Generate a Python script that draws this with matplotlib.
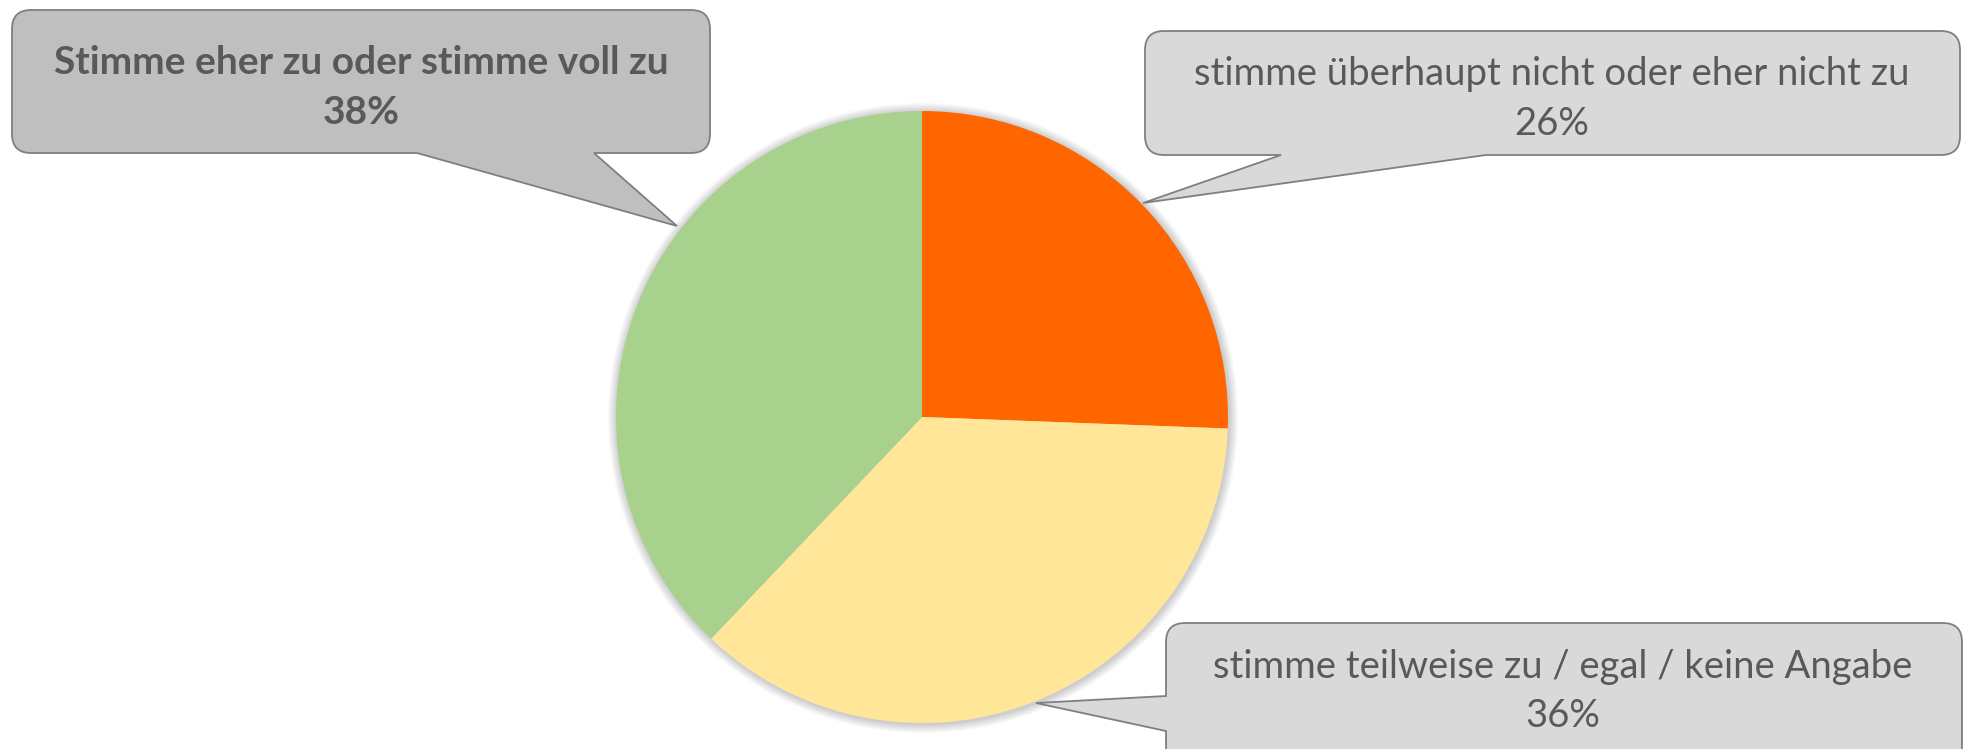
import matplotlib
matplotlib.use("Agg")
import matplotlib.pyplot as plt
from matplotlib.path import Path
from matplotlib.patches import PathPatch, Circle

# ---- data ----
categories = ["stimme überhaupt nicht oder eher nicht zu",
              "stimme teilweise zu / egal / keine Angabe",
              "Stimme eher zu oder stimme voll zu"]
values = [25.6, 36.5, 37.9]
pct_labels = ["26%", "36%", "38%"]
colors = ["#FF6600", "#FFE699", "#A9D18E"]

W, H = 1966, 749
fig = plt.figure(figsize=(W / 100, H / 100), dpi=100)
ax = fig.add_axes([0, 0, 1, 1])

cx, cy, R = 922, H - 417, 306

# subtle shadow
for i in range(10):
    ax.add_patch(Circle((cx + 1, cy - 1), R + 1 + i * 0.9, facecolor="#000000",
                        alpha=0.018, edgecolor="none", zorder=1))

ax.pie(values, colors=colors, startangle=90, counterclock=False,
       center=(cx, cy), radius=R, wedgeprops=dict(linewidth=0, zorder=2))

ax.set_xlim(0, W)
ax.set_ylim(0, H)
ax.set_aspect("equal")
ax.axis("off")


def callout(left, top, right, bottom, ptr, side, r=19):
    """Rounded box (image coords, y down) with a pointer; returns Path in data coords."""
    def P(x, y):
        return (x, H - y)
    verts, codes = [], []

    def move(x, y):
        verts.append(P(x, y)); codes.append(Path.MOVETO)

    def line(x, y):
        verts.append(P(x, y)); codes.append(Path.LINETO)

    def curve(cx_, cy_, x, y):
        verts.extend([P(cx_, cy_), P(x, y)]); codes.extend([Path.CURVE3, Path.CURVE3])

    move(left + r, top)
    line(right - r, top)
    curve(right, top, right, top + r)
    line(right, bottom - r)
    curve(right, bottom, right - r, bottom)
    if side == "bottom":
        (b1, b2, tip) = ptr
        line(b2, bottom)
        line(*tip)
        line(b1, bottom)
    line(left + r, bottom)
    curve(left, bottom, left, bottom - r)
    if side == "left":
        (p1, p2, tip) = ptr  # p1 upper, p2 lower
        line(left, p2)
        line(*tip)
        line(left, p1)
    line(left, top + r)
    curve(left, top, left + r, top)
    verts.append(P(left + r, top)); codes.append(Path.CLOSEPOLY)
    return Path(verts, codes)


text_color = "#595959"
edge = "#7F7F7F"
font = ["Lato", "DejaVu Sans"]
fs = 27.5

# box for 38%
p1 = callout(12, 10, 710, 153, (417, 594, (677, 226)), "bottom")
ax.add_patch(PathPatch(p1, facecolor="#BFBFBF", edgecolor=edge, lw=1.3, zorder=3))
ax.text(361, H - 62, categories[2], ha="center", va="center", fontsize=fs + 0.5,
        fontweight="bold", color=text_color, family=font, zorder=4)
ax.text(361, H - 112, pct_labels[2], ha="center", va="center", fontsize=fs + 0.5,
        fontweight="bold", color=text_color, family=font, zorder=4)

# box for 26%
p2 = callout(1145, 31, 1960, 155, (1281, 1486, (1143, 203)), "bottom")
ax.add_patch(PathPatch(p2, facecolor="#D9D9D9", edgecolor=edge, lw=1.3, zorder=3))
ax.text(1552, H - 74, categories[0], ha="center", va="center", fontsize=fs,
        color=text_color, family=font, zorder=4)
ax.text(1552, H - 124, pct_labels[0], ha="center", va="center", fontsize=fs,
        color=text_color, family=font, zorder=4)

# box for 36%
p3 = callout(1166, 623, 1962, 770, (696, 731, (1036, 703)), "left")
ax.add_patch(PathPatch(p3, facecolor="#D9D9D9", edgecolor=edge, lw=1.3, zorder=3))
ax.text(1563, H - 667, categories[1], ha="center", va="center", fontsize=fs,
        color=text_color, family=font, zorder=4)
ax.text(1563, H - 716, pct_labels[1], ha="center", va="center", fontsize=fs,
        color=text_color, family=font, zorder=4)

fig.savefig("out.png", dpi=100)
